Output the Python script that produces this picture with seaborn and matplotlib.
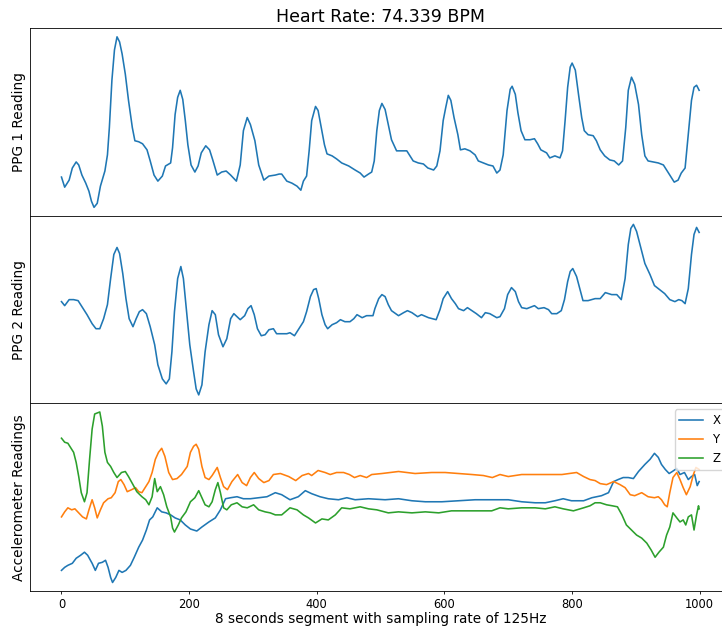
import matplotlib
matplotlib.use('Agg')
import matplotlib.pyplot as plt
import seaborn as sns
import pandas as pd

# valores (amostra, leitura)
ppg1_idx = [0, 5, 12, 17, 23, 27, 32, 38, 43, 47, 51, 56, 61, 68, 72, 75, 79, 83, 87, 91,
            95, 100, 105, 111, 115, 121, 127, 134, 139, 145, 151, 158, 163, 171, 174, 178, 182, 186, 190, 194,
            198, 203, 209, 214, 219, 226, 232, 237, 244, 251, 258, 265, 274, 280, 285, 291, 296, 303, 309, 317,
            325, 335, 341, 345, 353, 361, 369, 375, 379, 384, 388, 392, 398, 402, 407, 412, 416, 424, 431, 439,
            450, 460, 468, 474, 481, 486, 490, 494, 498, 502, 507, 512, 517, 525, 533, 541, 546, 551, 559, 567,
            574, 583, 588, 593, 598, 602, 606, 610, 615, 621, 625, 632, 640, 648, 653, 661, 669, 676, 682, 687,
            692, 698, 703, 706, 711, 715, 720, 726, 734, 741, 746, 751, 760, 765, 773, 781, 785, 789, 793, 797,
            800, 805, 810, 815, 819, 825, 833, 838, 844, 851, 859, 866, 873, 879, 884, 888, 893, 898, 904, 909,
            914, 919, 927, 935, 943, 948, 954, 960, 966, 971, 977, 982, 987, 991, 995, 999]
ppg1_val = [38, 28, 35, 47, 53, 50, 40, 32, 24, 14, 8, 12, 29, 44, 60, 87, 134, 164, 177, 172,
            160, 140, 114, 87, 74, 73, 71, 65, 54, 40, 34, 39, 49, 52, 67, 100, 117, 124, 115, 94,
            70, 50, 43, 49, 62, 69, 65, 55, 40, 43, 44, 40, 34, 50, 84, 97, 90, 74, 50, 35,
            39, 40, 41, 41, 34, 32, 29, 25, 34, 39, 64, 94, 108, 104, 87, 70, 61, 59, 56, 52,
            49, 45, 42, 38, 41, 43, 54, 84, 104, 111, 105, 90, 75, 64, 64, 64, 59, 54, 52, 51,
            47, 45, 49, 64, 94, 107, 119, 114, 97, 80, 65, 66, 64, 60, 54, 52, 50, 49, 42, 45,
            60, 104, 125, 128, 120, 102, 84, 75, 75, 76, 71, 65, 62, 57, 59, 57, 64, 94, 127, 147,
            151, 144, 120, 97, 84, 80, 79, 74, 65, 59, 55, 54, 50, 54, 87, 124, 137, 130, 110, 80,
            59, 54, 53, 52, 50, 45, 39, 33, 35, 42, 47, 80, 114, 127, 129, 124]

ppg2_idx = [0, 5, 12, 19, 26, 32, 40, 48, 54, 60, 66, 72, 77, 82, 87, 91, 96, 101, 106, 112,
            117, 122, 127, 133, 139, 146, 151, 158, 164, 169, 173, 177, 182, 187, 191, 196, 201, 207, 211, 215,
            220, 225, 231, 236, 241, 246, 253, 259, 265, 270, 275, 280, 287, 292, 297, 302, 307, 313, 319, 325,
            332, 337, 343, 353, 358, 365, 371, 379, 384, 390, 395, 399, 403, 408, 413, 417, 424, 431, 437, 444,
            452, 458, 463, 471, 478, 488, 491, 497, 502, 507, 512, 517, 528, 536, 542, 549, 558, 564, 575, 587,
            593, 598, 605, 611, 617, 622, 630, 636, 643, 650, 658, 664, 671, 682, 687, 694, 699, 705, 711, 716,
            721, 729, 741, 747, 756, 763, 768, 776, 783, 788, 793, 797, 801, 807, 812, 817, 825, 836, 844, 852,
            862, 870, 877, 883, 888, 892, 896, 901, 908, 914, 922, 929, 937, 945, 953, 961, 967, 972, 977, 982,
            987, 991, 995, 999]
ppg2_val = [101, 97, 103, 103, 102, 96, 88, 79, 74, 74, 84, 98, 124, 148, 155, 149, 129, 104, 84, 76,
            84, 91, 93, 89, 76, 58, 38, 24, 19, 24, 51, 91, 124, 136, 124, 91, 58, 31, 14, 8,
            18, 51, 78, 92, 88, 68, 56, 64, 84, 89, 86, 83, 87, 94, 97, 88, 74, 67, 68, 73,
            74, 69, 69, 69, 70, 67, 73, 81, 91, 106, 113, 114, 104, 88, 78, 74, 78, 80, 83, 81,
            81, 84, 88, 85, 87, 87, 94, 104, 108, 106, 98, 92, 87, 90, 92, 90, 86, 88, 85, 83,
            93, 104, 111, 104, 99, 94, 92, 95, 92, 89, 85, 90, 89, 85, 86, 94, 108, 115, 111, 101,
            95, 94, 97, 94, 95, 93, 89, 89, 92, 103, 121, 131, 134, 126, 114, 102, 102, 104, 104, 110,
            108, 108, 103, 124, 158, 174, 178, 171, 154, 139, 128, 117, 113, 109, 103, 101, 103, 102, 99, 114,
            148, 168, 175, 170]

acc_x_idx = [0, 5, 10, 17, 23, 30, 36, 41, 48, 53, 58, 64, 69, 73, 77, 80, 85, 90, 95, 101,
             108, 114, 121, 127, 133, 138, 143, 150, 157, 164, 171, 178, 186, 194, 202, 212, 220, 231, 241, 249,
             257, 265, 275, 285, 296, 309, 322, 335, 345, 358, 371, 382, 392, 405, 418, 434, 447, 460, 481, 507,
             528, 549, 570, 596, 622, 648, 669, 687, 700, 721, 742, 758, 773, 786, 799, 818, 831, 846, 857, 865,
             872, 880, 888, 896, 904, 914, 922, 929, 935, 940, 946, 952, 957, 964, 969, 976, 982, 987, 992, 996,
             999]
acc_x_val = [21, 24, 26, 28, 33, 36, 39, 36, 28, 21, 28, 29, 31, 24, 14, 9, 14, 21, 19, 21,
             26, 34, 44, 51, 61, 71, 74, 83, 79, 78, 76, 73, 71, 66, 62, 60, 64, 69, 73, 81,
             92, 93, 94, 92, 92, 93, 94, 98, 96, 91, 94, 100, 97, 94, 92, 91, 93, 91, 92, 91,
             92, 90, 89, 89, 90, 91, 91, 91, 91, 89, 88, 88, 90, 92, 90, 90, 93, 95, 98, 109,
             111, 113, 113, 112, 119, 126, 131, 137, 133, 126, 121, 117, 119, 122, 116, 118, 111, 114, 116, 105,
             109]

acc_y_idx = [0, 5, 10, 16, 21, 27, 33, 39, 43, 48, 52, 56, 61, 66, 73, 78, 84, 89, 93, 98,
             103, 110, 116, 121, 126, 132, 137, 142, 147, 152, 157, 162, 168, 174, 181, 188, 197, 202, 207, 211,
             215, 220, 225, 231, 236, 244, 249, 254, 260, 267, 276, 283, 290, 296, 302, 309, 317, 325, 332, 343,
             356, 367, 377, 387, 392, 402, 413, 421, 431, 442, 451, 459, 468, 478, 486, 502, 528, 554, 580, 601,
             622, 643, 661, 675, 687, 700, 721, 742, 763, 784, 807, 818, 828, 836, 844, 854, 865, 875, 883, 891,
             898, 909, 919, 929, 935, 940, 945, 949, 953, 958, 964, 969, 974, 979, 985, 990, 994, 999]
acc_y_val = [74, 79, 83, 81, 82, 78, 74, 72, 81, 91, 83, 73, 81, 88, 92, 93, 98, 109, 111, 106,
             99, 101, 103, 99, 98, 104, 109, 118, 131, 138, 142, 134, 118, 111, 112, 116, 124, 138, 144, 146,
             141, 124, 113, 111, 115, 123, 113, 104, 101, 109, 116, 108, 105, 113, 118, 112, 108, 110, 116, 117,
             114, 110, 115, 117, 115, 120, 118, 116, 118, 118, 116, 113, 115, 113, 116, 117, 119, 117, 118, 118,
             117, 116, 115, 113, 116, 114, 116, 116, 116, 116, 118, 114, 111, 110, 107, 106, 109, 106, 103, 96,
             95, 98, 94, 93, 94, 91, 86, 84, 98, 113, 118, 111, 103, 96, 104, 116, 123, 121]

acc_z_idx = [0, 5, 10, 16, 19, 23, 27, 31, 36, 40, 44, 48, 52, 56, 60, 64, 68, 72, 77, 82,
             87, 94, 100, 105, 112, 118, 126, 132, 137, 142, 146, 150, 155, 160, 165, 171, 174, 177, 183, 188,
             195, 202, 209, 215, 220, 225, 231, 236, 241, 245, 249, 254, 259, 266, 275, 283, 291, 301, 309, 319,
             327, 335, 345, 358, 369, 379, 387, 398, 408, 418, 429, 439, 452, 468, 481, 494, 512, 528, 549, 570,
             591, 611, 632, 653, 674, 687, 700, 721, 742, 758, 773, 786, 802, 818, 828, 836, 844, 854, 863, 871,
             878, 885, 893, 901, 909, 917, 924, 930, 936, 943, 948, 953, 958, 964, 969, 974, 978, 982, 987, 991,
             995, 998, 999]
acc_z_val = [152, 148, 147, 141, 138, 128, 114, 98, 89, 98, 131, 161, 176, 177, 178, 164, 138, 128, 124, 118,
             113, 118, 119, 114, 106, 99, 94, 91, 86, 94, 112, 99, 104, 96, 84, 74, 63, 59, 66, 73,
             79, 89, 93, 100, 93, 86, 84, 89, 101, 108, 98, 83, 81, 86, 88, 84, 83, 86, 81, 79,
             78, 76, 76, 83, 81, 76, 73, 68, 72, 71, 76, 83, 82, 84, 82, 81, 78, 79, 78, 79,
             78, 80, 80, 80, 80, 83, 82, 83, 83, 82, 84, 82, 80, 83, 85, 88, 88, 86, 85, 84,
             76, 66, 61, 56, 53, 48, 41, 34, 39, 44, 56, 64, 78, 73, 69, 71, 66, 74, 76, 61,
             76, 85, 82]

titulo = 'Heart Rate: 74.339 BPM'
rotulo_x = '8 seconds segment with sampling rate of 125Hz'
cores = ['#1f77b4', '#ff7f0e', '#2ca02c']
lw = 1.15

fig, axes = plt.subplots(3, 1, sharex=True, figsize=(7.22, 6.29), dpi=100)
fig.subplots_adjust(left=0.041, right=1.0125, top=0.955, bottom=0.0604, hspace=0)

# PPG 1
sns.lineplot(x=ppg1_idx, y=ppg1_val, ax=axes[0], color=cores[0], linewidth=lw, errorbar=None)
axes[0].set_title(titulo, fontsize=12.5, pad=4.3)
axes[0].set_ylabel('PPG 1 Reading', fontsize=9.8, labelpad=2.5)

# PPG 2
sns.lineplot(x=ppg2_idx, y=ppg2_val, ax=axes[1], color=cores[0], linewidth=lw, errorbar=None)
axes[1].set_ylabel('PPG 2 Reading', fontsize=9.8, labelpad=2.5)

# Acelerômetro
sns.lineplot(x=acc_x_idx, y=acc_x_val, ax=axes[2], color=cores[0], linewidth=lw, errorbar=None, label='X')
sns.lineplot(x=acc_y_idx, y=acc_y_val, ax=axes[2], color=cores[1], linewidth=lw, errorbar=None, label='Y')
sns.lineplot(x=acc_z_idx, y=acc_z_val, ax=axes[2], color=cores[2], linewidth=lw, errorbar=None, label='Z')
axes[2].set_ylabel('Accelerometer Readings', fontsize=9.8, labelpad=2.5)
axes[2].set_xlabel(rotulo_x, fontsize=9.8, labelpad=1)
axes[2].legend(loc='upper right', fontsize=8.5)

for ax in axes:
    ax.set_yticks([])
    for s in ax.spines.values():
        s.set_linewidth(0.6)
for ax in axes[:2]:
    ax.tick_params(axis='x', bottom=False, labelbottom=False)
axes[2].tick_params(axis='x', labelsize=8.3, length=2.5, pad=2.5, width=0.6)
axes[2].set_xticks([0, 200, 400, 600, 800, 1000])

plt.savefig('out.png', dpi=100)
